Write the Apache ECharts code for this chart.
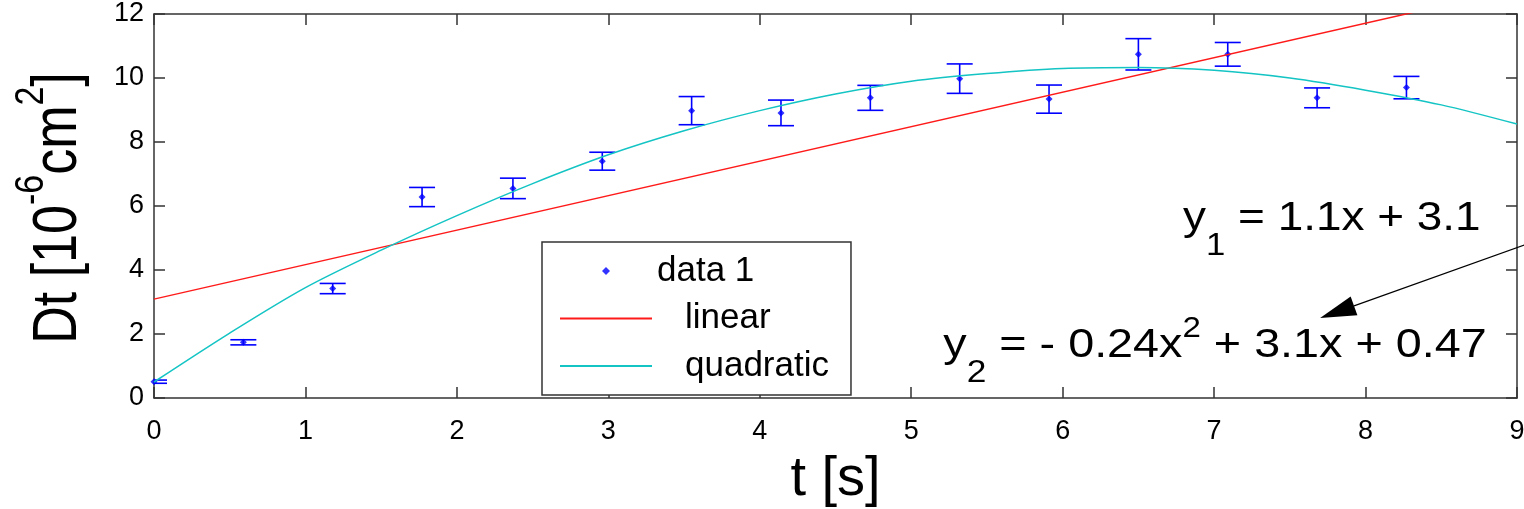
<!DOCTYPE html>
<html>
<head>
<meta charset="utf-8">
<script src="https://cdn.jsdelivr.net/npm/echarts@6/dist/echarts.min.js"></script>
<style>
  html, body { margin: 0; padding: 0; background: #fff; }
  #chart { width: 1524px; height: 509px; }
</style>
</head>
<body>
<div id="chart"></div>
<script>
// 测量点 t [s] 与 Dt [1e-6 cm^2]
const tData = [0, 0.59, 1.18, 1.77, 2.37, 2.96, 3.55, 4.14, 4.73, 5.32, 5.91, 6.50, 7.09, 7.68, 8.27];
const dtData = [0.51, 1.74, 3.42, 6.28, 6.55, 7.40, 8.98, 8.91, 9.38, 9.98, 9.34, 10.74, 10.74, 9.38, 9.70];
const errData = [0.05, 0.08, 0.16, 0.30, 0.32, 0.28, 0.44, 0.40, 0.39, 0.46, 0.44, 0.49, 0.37, 0.31, 0.35];

// 拟合曲线
const linT = [0, 9];
const linY = [3.09, 12.79];
const quadT = [0, 0.5, 1, 1.5, 2, 2.5, 3, 3.5, 4, 4.5, 5, 5.5, 6, 6.5, 7, 7.5, 8, 8.5, 9];
const quadY = [0.50, 2.03, 3.45, 4.62, 5.70, 6.70, 7.60, 8.35, 8.98, 9.50, 9.90, 10.14, 10.30, 10.33, 10.24, 10.00, 9.62, 9.16, 8.56];

const xTicks = [0, 9, 1];   // min, max, interval
const yTicks = [0, 12, 2];

const FONT = '"Liberation Sans", Arial, Helvetica, sans-serif';
const BLUE = '#0000ff';
const RED = '#ff1a1a';
const CYAN = '#14c4c4';
const FRAME = '#333';

const chart = echarts.init(document.getElementById('chart'));

const zip = (a, b) => a.map((v, i) => [v, b[i]]);
const errRows = tData.map((t, i) => [t, dtData[i] - errData[i], dtData[i] + errData[i]]);

const axisCommon = {
    type: 'value',
    axisLine: { show: true, onZero: false, lineStyle: { color: FRAME, width: 1.5 } },
    axisTick: { show: true, inside: true, length: 11, lineStyle: { color: FRAME, width: 1.5 } },
    splitLine: { show: false }
};

// 图例中折线不画圆点
const noDot = { color: 'rgba(0,0,0,0)', borderWidth: 0, opacity: 0 };

chart.setOption({
    animation: false,
    backgroundColor: '#fff',
    grid: { left: 154, right: 7, top: 14, bottom: 111, containLabel: false, outerBoundsMode: 'none' },
    xAxis: [
        Object.assign({}, axisCommon, {
            position: 'bottom', min: xTicks[0], max: xTicks[1], interval: xTicks[2],
            axisLabel: { color: '#000', fontSize: 27, fontFamily: FONT, margin: 20, showMinLabel: true, showMaxLabel: true },
            name: 't [s]', nameLocation: 'middle', nameGap: 54,
            nameTextStyle: { color: '#000', fontSize: 56, fontFamily: FONT }
        }),
        Object.assign({}, axisCommon, {
            position: 'top', min: xTicks[0], max: xTicks[1], interval: xTicks[2],
            axisLabel: { show: false }
        })
    ],
    yAxis: [
        Object.assign({}, axisCommon, {
            position: 'left', min: yTicks[0], max: yTicks[1], interval: yTicks[2],
            axisLabel: { color: '#000', fontSize: 27, fontFamily: FONT, margin: 10 }
        }),
        Object.assign({}, axisCommon, {
            position: 'right', min: yTicks[0], max: yTicks[1], interval: yTicks[2],
            axisLabel: { show: false }
        })
    ],
    legend: {
        left: 542, top: 242,
        orient: 'vertical',
        data: [
            { name: 'data 1', icon: 'path://M0,-1L1,0L0,1L-1,0Z' },
            { name: 'linear', itemStyle: noDot },
            { name: 'quadratic', itemStyle: noDot }
        ],
        symbolKeepAspect: true,
        itemWidth: 92, itemHeight: 8, itemGap: 7.5, itemTextGap: 11,
        padding: [9, 22, 9, 17],
        borderColor: FRAME, borderWidth: 1.5, backgroundColor: '#fff',
        formatter: name => name === 'data 1' ? name : '{g|}' + name,
        textStyle: {
            color: '#000', fontSize: 35, fontFamily: FONT, lineHeight: 40,
            rich: { g: { width: 28 } }
        }
    },
    series: [
        {
            name: 'err', type: 'custom', clip: true, z: 2,
            data: errRows,
            renderItem: (params, api) => {
                const t = api.value(0);
                const lo = api.coord([t, api.value(1)]);
                const hi = api.coord([t, api.value(2)]);
                const half = 13;
                const style = { stroke: BLUE, lineWidth: 1.6 };
                return {
                    type: 'group', children: [
                        { type: 'line', shape: { x1: lo[0], y1: lo[1], x2: hi[0], y2: hi[1] }, style },
                        { type: 'line', shape: { x1: hi[0] - half, y1: hi[1], x2: hi[0] + half, y2: hi[1] }, style },
                        { type: 'line', shape: { x1: lo[0] - half, y1: lo[1], x2: lo[0] + half, y2: lo[1] }, style }
                    ]
                };
            }
        },
        {
            name: 'data 1', type: 'scatter', z: 3,
            symbol: 'diamond', symbolSize: 7,
            itemStyle: { color: BLUE },
            data: zip(tData, dtData)
        },
        {
            name: 'linear', type: 'line', z: 4,
            symbol: 'none', clip: true,
            lineStyle: { color: RED, width: 1.5 },
            itemStyle: { color: RED },
            data: zip(linT, linY)
        },
        {
            name: 'quadratic', type: 'line', z: 4,
            symbol: 'none', clip: true, smooth: 0.3,
            lineStyle: { color: CYAN, width: 1.5 },
            itemStyle: { color: CYAN },
            data: zip(quadT, quadY)
        }
    ]
});

// 注释：方程与箭头（数据坐标 -> 像素）
const eq1At = chart.convertToPixel({ gridIndex: 0 }, [8.76, 5.16]);
const eq2At = chart.convertToPixel({ gridIndex: 0 }, [8.80, 1.19]);
const arrowTail = chart.convertToPixel({ gridIndex: 0 }, [9.06, 4.80]);
const arrowTip = chart.convertToPixel({ gridIndex: 0 }, [7.70, 2.50]);

const dx = arrowTail[0] - arrowTip[0], dy = arrowTail[1] - arrowTip[1];
const len = Math.hypot(dx, dy);
const ux = dx / len, uy = dy / len;
const headLen = 36, headHalf = 10;
const base = [arrowTip[0] + ux * headLen, arrowTip[1] + uy * headLen];
const head = [
    arrowTip,
    [base[0] - uy * headHalf, base[1] + ux * headHalf],
    [base[0] + uy * headHalf, base[1] - ux * headHalf]
];

const eqRich = {
    m: { fontSize: 41, lineHeight: 41, verticalAlign: 'top', padding: [10, 0, 0, 0], fontFamily: FONT, color: '#000' },
    sub: { fontSize: 31, lineHeight: 31, verticalAlign: 'top', padding: [43, 0, 0, 0], fontFamily: FONT, color: '#000' },
    sup: { fontSize: 29, lineHeight: 29, verticalAlign: 'top', fontFamily: FONT, color: '#000' }
};

chart.setOption({
    graphic: [
        {
            type: 'text', x: 59, y: 208, rotation: Math.PI / 2, scaleY: 1.2,
            style: {
                text: '{m|Dt [10}{s|-6}{m|cm}{s|2}{m|]}',
                align: 'center', verticalAlign: 'middle',
                rich: {
                    m: { fontSize: 52, lineHeight: 80, fontFamily: FONT, color: '#000' },
                    s: { fontSize: 34, lineHeight: 34, verticalAlign: 'top', fontFamily: FONT, color: '#000' }
                }
            }
        },
        {
            type: 'text', x: eq1At[0], y: eq1At[1] - 45, scaleX: 1.12, z: 10,
            style: { text: '{m|y}{sub|1}{m| = 1.1x + 3.1}', align: 'right', verticalAlign: 'top', rich: eqRich }
        },
        {
            type: 'text', x: eq2At[0], y: eq2At[1] - 45, scaleX: 1.14, z: 10,
            style: { text: '{m|y}{sub|2}{m| = - 0.24x}{sup|2}{m| + 3.1x + 0.47}', align: 'right', verticalAlign: 'top', rich: eqRich }
        },
        {
            type: 'line', z: 10,
            shape: { x1: arrowTail[0], y1: arrowTail[1], x2: base[0], y2: base[1] },
            style: { stroke: '#000', lineWidth: 1.2 }
        },
        {
            type: 'polygon', z: 10,
            shape: { points: head },
            style: { fill: '#000' }
        }
    ]
});
</script>
</body>
</html>
